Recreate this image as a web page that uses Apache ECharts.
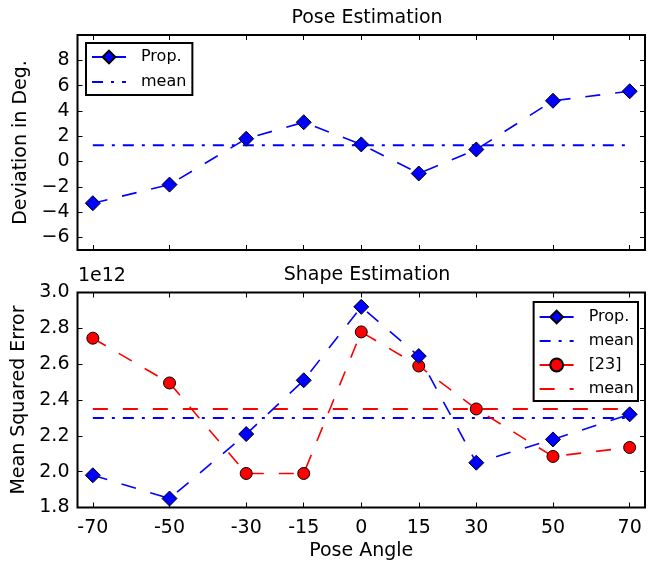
<!DOCTYPE html>
<html>
<head>
<meta charset="utf-8">
<script src="https://cdn.jsdelivr.net/npm/echarts@6/dist/echarts.min.js"></script>
<style>
    html, body { margin: 0; padding: 0; background: #fff; }
    #pose-shape-chart { width: 649px; height: 563px; }
</style>
</head>
<body>
<div id="pose-shape-chart"></div>
<script>
    // pose angles (x)
    const angles = [-70, -50, -30, -15, 0, 15, 30, 50, 70];
    // top: deviation in degrees
    const poseProp = [-3.3, -1.83, 1.8, 3.1, 1.35, -0.95, 0.95, 4.8, 5.55];
    const poseMean = 1.28;
    const poseTicks = [-6, -4, -2, 0, 2, 4, 6, 8];
    // bottom: mean squared error, in units of 1e12
    const shapeProp = [1.98, 1.85, 2.21, 2.51, 2.92, 2.645, 2.05, 2.18, 2.32];
    const shapePropMean = 2.30;
    const shapeRef = [2.745, 2.495, 1.99, 1.99, 2.78, 2.59, 2.35, 2.085, 2.135];
    const shapeRefMean = 2.35;

    const legendText = {
        "pose-prop": "Prop.",
        "pose-mean": "mean",
        "shape-prop": "Prop.",
        "shape-prop-mean": "mean",
        "shape-ref": "[23]",
        "shape-ref-mean": "mean"
    };

    const font = "DejaVu Sans";
    const blue = "#0000ff";
    const red = "#ff0000";
    const dashed = [15, 15];
    const dashDot = [11, 8, 3, 8];

    function pairs(values) {
        return angles.map((a, i) => [a, values[i]]);
    }
    function flat(v) {
        return [[angles[0], v], [angles[angles.length - 1], v]];
    }
    function minus(v) {
        return v < 0 ? "\u2212" + Math.abs(v) : String(v);
    }
    // legend entry for a line-only series (hide the fallback symbol)
    function lineOnly(name) {
        return { name: name, itemStyle: { opacity: 0 } };
    }
    // legend entry with marker and a short solid line
    function marker(name) {
        return { name: name, lineStyle: { type: "solid" } };
    }

    const tickStyle = { inside: true, length: 5, lineStyle: { color: "#000", width: 1 } };
    const labelStyle = { color: "#000", fontFamily: font, fontSize: 19 };
    const noLine = { show: false, onZero: false };

    function xAxes(gridIndex, withLabels) {
        return [
            {
                gridIndex: gridIndex, type: "value", position: "bottom", min: -74, max: 74,
                axisLine: noLine, splitLine: { show: false },
                axisTick: Object.assign({ customValues: angles }, tickStyle),
                axisLabel: Object.assign({ show: withLabels, customValues: angles, margin: 11,
                    formatter: v => String(v) }, labelStyle),
                name: withLabels ? "Pose Angle" : "", nameLocation: "middle", nameGap: 34,
                nameTextStyle: labelStyle
            },
            {
                gridIndex: gridIndex, type: "value", position: "top", min: -74, max: 74,
                axisLine: noLine, splitLine: { show: false },
                axisTick: Object.assign({ customValues: angles }, tickStyle),
                axisLabel: { show: false }
            }
        ];
    }

    let eChart = echarts.init(document.getElementById("pose-shape-chart"));
    eChart.setOption({
        animation: false,
        title: [
            { text: "Pose Estimation", left: 362, top: 4, textAlign: "center",
              textStyle: { color: "#000", fontFamily: font, fontSize: 19, fontWeight: "normal" } },
            { text: "Shape Estimation", left: 362, top: 261, textAlign: "center",
              textStyle: { color: "#000", fontFamily: font, fontSize: 19, fontWeight: "normal" } },
            { text: "1e12", left: 78, top: 267, padding: 0,
              textStyle: { color: "#000", fontFamily: font, fontSize: 19, fontWeight: "normal" } }
        ],
        grid: [
            { left: 77.5, top: 35, width: 567.5, height: 215, show: true, borderColor: "#000", borderWidth: 2 },
            { left: 77.5, top: 292.5, width: 567.5, height: 215, show: true, borderColor: "#000", borderWidth: 2 }
        ],
        legend: [
            {
                data: [marker("pose-prop"), lineOnly("pose-mean")], orient: "vertical", left: 86, top: 43,
                formatter: n => legendText[n], itemWidth: 34, itemHeight: 16, itemGap: 9,
                padding: [6, 6, 5, 5], borderColor: "#000", borderWidth: 2,
                textStyle: { color: "#000", fontFamily: font, fontSize: 16, padding: [0, 0, 0, 10] }
            },
            {
                data: [marker("shape-prop"), lineOnly("shape-prop-mean"), marker("shape-ref"), lineOnly("shape-ref-mean")],
                orient: "vertical", right: 11, top: 302,
                formatter: n => legendText[n], itemWidth: 34, itemHeight: 16, itemGap: 8,
                padding: [7, 4, 4, 5], borderColor: "#000", borderWidth: 2,
                textStyle: { color: "#000", fontFamily: font, fontSize: 16, padding: [0, 0, 0, 10] }
            }
        ],
        xAxis: xAxes(0, false).concat(xAxes(1, true)),
        yAxis: [
            {
                gridIndex: 0, type: "value", position: "left", min: -7, max: 10,
                axisLine: noLine, splitLine: { show: false },
                axisTick: Object.assign({ customValues: poseTicks }, tickStyle),
                axisLabel: Object.assign({ customValues: poseTicks, margin: 8, formatter: minus }, labelStyle),
                name: "Deviation in Deg.", nameLocation: "middle", nameGap: 47, nameTextStyle: labelStyle
            },
            {
                gridIndex: 0, type: "value", position: "right", min: -7, max: 10,
                axisLine: noLine, splitLine: { show: false },
                axisTick: Object.assign({ customValues: poseTicks }, tickStyle),
                axisLabel: { show: false }
            },
            {
                gridIndex: 1, type: "value", position: "left", min: 1.8, max: 3.0, interval: 0.2,
                axisLine: noLine, splitLine: { show: false },
                axisTick: tickStyle,
                axisLabel: Object.assign({ margin: 8, formatter: v => v.toFixed(1) }, labelStyle),
                name: "Mean Squared Error", nameLocation: "middle", nameGap: 47, nameTextStyle: labelStyle
            },
            {
                gridIndex: 1, type: "value", position: "right", min: 1.8, max: 3.0, interval: 0.2,
                axisLine: noLine, splitLine: { show: false },
                axisTick: tickStyle,
                axisLabel: { show: false }
            }
        ],
        series: [
            {
                name: "pose-mean", type: "line", xAxisIndex: 0, yAxisIndex: 0, data: flat(poseMean),
                symbol: "none", lineStyle: { color: blue, width: 2, type: dashDot }, itemStyle: { color: blue }
            },
            {
                name: "pose-prop", type: "line", xAxisIndex: 0, yAxisIndex: 0, data: pairs(poseProp),
                symbol: "diamond", symbolSize: 15,
                lineStyle: { color: blue, width: 1.6, type: dashed },
                itemStyle: { color: blue, borderColor: "#000", borderWidth: 1 }
            },
            {
                name: "shape-ref-mean", type: "line", xAxisIndex: 2, yAxisIndex: 2, data: flat(shapeRefMean),
                symbol: "none", lineStyle: { color: red, width: 2, type: dashed }, itemStyle: { color: red }
            },
            {
                name: "shape-prop-mean", type: "line", xAxisIndex: 2, yAxisIndex: 2, data: flat(shapePropMean),
                symbol: "none", lineStyle: { color: blue, width: 2, type: dashDot }, itemStyle: { color: blue }
            },
            {
                name: "shape-ref", type: "line", xAxisIndex: 2, yAxisIndex: 2, data: pairs(shapeRef),
                symbol: "circle", symbolSize: 12,
                lineStyle: { color: red, width: 1.6, type: dashed },
                itemStyle: { color: red, borderColor: "#000", borderWidth: 1 }
            },
            {
                name: "shape-prop", type: "line", xAxisIndex: 2, yAxisIndex: 2, data: pairs(shapeProp),
                symbol: "diamond", symbolSize: 15,
                lineStyle: { color: blue, width: 1.6, type: dashed },
                itemStyle: { color: blue, borderColor: "#000", borderWidth: 1 }
            }
        ]
    });
</script>
</body>
</html>
